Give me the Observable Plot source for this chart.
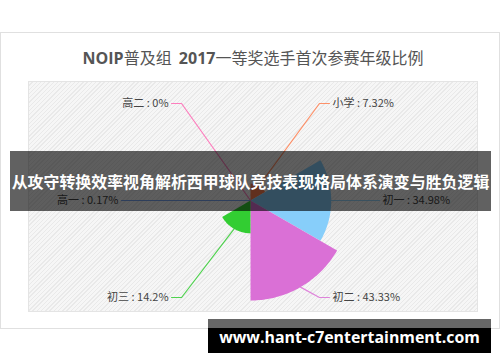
<!DOCTYPE html>
<html><head><meta charset="utf-8">
<script src="https://cdn.jsdelivr.net/npm/d3@7"></script>
<script src="https://cdn.jsdelivr.net/npm/@observablehq/plot@0.6"></script>
<style>
body{margin:0;background:#fff;}
#wrap{position:relative;width:500px;height:362px;overflow:hidden;font-family:"Noto Sans CJK SC","Noto Sans",sans-serif;}
#box{position:absolute;left:0;top:32px;width:498px;height:295px;border:1px solid #e0e0e0;background:#fff;}
#hatch{position:absolute;left:28px;top:81px;width:448px;height:229px;border:1px solid #e4e4e4;
 background:repeating-linear-gradient(135deg,#f6f6f6 0px,#f6f6f6 2px,#e9e9e9 2px,#e9e9e9 3px);}
#chart{position:absolute;left:0;top:0;}
#title{position:absolute;left:0;top:45px;width:506px;text-align:center;font-size:16px;color:#555;line-height:24px;white-space:nowrap;}
#title b{font-family:"Open Sans","Noto Sans",sans-serif;font-weight:700;}
#banner{position:absolute;left:10px;top:151px;width:481px;height:60px;background:rgba(0,0,0,0.62);color:#fff;
 font-weight:700;line-height:60px;text-align:center;white-space:nowrap;overflow:visible;}
#wmtop{position:absolute;left:208px;top:319px;width:283px;height:9px;background:#666;}
#wm{position:absolute;left:208px;top:328px;width:283px;height:25px;background:#000;}
#wmtext{position:absolute;left:208px;top:319px;width:283px;height:36px;line-height:36px;text-align:center;color:#fff;
 font-family:"Open Sans","Noto Sans",sans-serif;font-weight:700;white-space:nowrap;}
</style></head><body>
<div id="wrap">
 <div id="box"></div>
 <div id="hatch"></div>
 <div id="chart"></div>
 <div id="title"><b>NOIP</b>普及组&nbsp;&nbsp;<b>2017</b>一等奖选手首次参赛年级比例</div>
 <div id="banner"><span id="bt">从攻守转换效率视角解析西甲球队竞技表现格局体系演变与胜负逻辑</span></div>
 <div id="wmtop"></div><div id="wm"></div>
 <div id="wmtext"><span id="wt">www.hant-c7entertainment.com</span></div>
</div>
<script>
const categories = ["小学","初一","初二","初三","高一","高二"];
const values = [7.32, 34.98, 43.33, 14.2, 0.17, 0];
const colors = ["#ff7f50","#87cefa","#da70d6","#32cd32","#6495ed","#ff69b4"];

const W = 500, H = 362, mL = 28, mR = 23, mT = 81, mB = 51, cx = 250, cy = 200, rMax = 100;
const maxV = d3.max(values), s = maxV / rMax;
const slice = 2 * Math.PI / categories.length;

const sectors = [];
categories.forEach((c, i) => {
  const a0 = i * slice, a1 = (i + 1) * slice, r = values[i];
  sectors.push({c, x: 0, y: 0});
  for (let k = 0; k <= 48; k++) {
    const a = a0 + (a1 - a0) * k / 48;
    sectors.push({c, x: r * Math.sin(a), y: r * Math.cos(a)});
  }
});

const R = 119 * s, clampY = 97 * s, hLen = 10 * s;
const leaders = [], texts = [];
categories.forEach((c, i) => {
  const m = (i + 0.5) * slice, sx = Math.sin(m), cyv = Math.cos(m), r = values[i];
  const side = sx >= 0 ? 1 : -1;
  let ey = R * cyv; ey = Math.max(-clampY, Math.min(clampY, ey));
  const ex = side * Math.sqrt(R * R - ey * ey);
  leaders.push({c, x: r * sx, y: r * cyv}, {c, x: ex, y: ey}, {c, x: ex + side * hLen, y: ey});
  texts.push({c, side, x: ex + side * hLen, y: ey, label: `${c} : ${values[i]}%`});
});

const chart = Plot.plot({
  width: W, height: H, marginLeft: mL, marginRight: mR, marginTop: mT, marginBottom: mB,
  x: {domain: [(mL - cx) * s, (W - mR - cx) * s], axis: null},
  y: {domain: [-(H - mB - cy) * s, (cy - mT) * s], axis: null},
  color: {domain: categories, range: colors},
  style: {background: "transparent", overflow: "visible"},
  marks: [
    Plot.line(sectors, {x: "x", y: "y", z: "c", fill: "c", stroke: null, curve: "linear-closed"}),
    Plot.line(leaders, {x: "x", y: "y", z: "c", stroke: "c", strokeWidth: 1.2, strokeOpacity: 0.85}),
    Plot.text(texts.filter(d => d.side > 0), {x: "x", y: "y", text: "label", textAnchor: "start", dx: 3, fontSize: 11, fill: "#444", fontFamily: "Noto Sans CJK SC"}),
    Plot.text(texts.filter(d => d.side < 0), {x: "x", y: "y", text: "label", textAnchor: "end", dx: -3, fontSize: 11, fill: "#444", fontFamily: "Noto Sans CJK SC"})
  ]
});
document.getElementById("chart").appendChild(chart);

function fit(id, target) {
  const el = document.getElementById(id);
  let fs = 20;
  el.style.fontSize = fs + "px";
  const w = el.getBoundingClientRect().width;
  fs = fs * target / w;
  el.style.fontSize = fs + "px";
}
fit("bt", 478);
fit("wt", 261);
</script>
</body></html>
